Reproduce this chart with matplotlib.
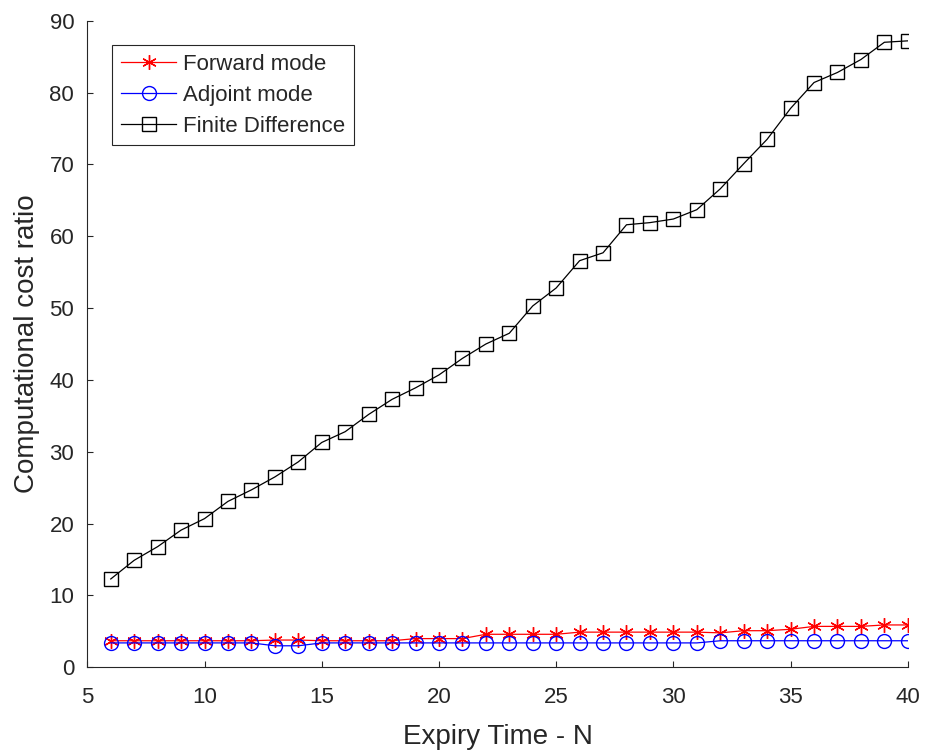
import matplotlib
matplotlib.use('Agg')
import matplotlib.pyplot as plt

plt.rcParams['font.family'] = ['Liberation Sans', 'DejaVu Sans']

# expiry times N
N = list(range(6, 41))

# computational cost ratios
forward = [3.7, 3.7, 3.7, 3.7, 3.7, 3.7, 3.7, 3.8, 3.8, 3.7, 3.7, 3.7, 3.7,
           4.0, 4.0, 4.0, 4.6, 4.6, 4.6, 4.6, 4.9, 4.9, 4.9, 4.9, 4.9, 4.9,
           4.8, 5.1, 5.1, 5.3, 5.7, 5.7, 5.7, 5.9, 5.9]
adjoint = [3.4, 3.4, 3.4, 3.4, 3.4, 3.4, 3.4, 3.0, 3.0, 3.4, 3.4, 3.4, 3.4,
           3.4, 3.4, 3.4, 3.4, 3.4, 3.4, 3.4, 3.4, 3.4, 3.4, 3.4, 3.4, 3.4,
           3.7, 3.7, 3.7, 3.7, 3.7, 3.7, 3.7, 3.7, 3.7]
finite_diff = [12.3, 14.9, 16.8, 19.1, 20.7, 23.1, 24.7, 26.5, 28.6, 31.3,
               32.8, 35.2, 37.3, 38.9, 40.7, 43.0, 45.0, 46.5, 50.3, 52.8,
               56.6, 57.7, 61.6, 61.9, 62.4, 63.7, 66.6, 70.1, 73.5, 77.8,
               81.4, 82.8, 84.6, 87.0, 87.2]

fig = plt.figure(figsize=(9.25, 7.51), dpi=100)
ax = fig.add_axes([0.0944, 0.1114, 0.887, 0.861])

ax.plot(N, forward, color='red', lw=0.9, marker=(6, 2, 0), ms=10.5, mew=1.0,
        label='Forward mode')
ax.plot(N, adjoint, color='blue', lw=0.9, marker='o', ms=10, mew=1.0,
        mfc='none', label='Adjoint mode')
ax.plot(N, finite_diff, color='black', lw=0.9, marker='s', ms=9.5, mew=1.0,
        mfc='none', label='Finite Difference')

ax.set_xlim(5, 40)
ax.set_ylim(0, 90)
ax.set_xticks(range(5, 41, 5))
ax.set_yticks(range(0, 91, 10))

axcol = '#262626'
for s in ['top', 'right']:
    ax.spines[s].set_visible(False)
for s in ['left', 'bottom']:
    ax.spines[s].set_color(axcol)
    ax.spines[s].set_linewidth(0.8)
ax.tick_params(direction='in', length=4, width=0.8, colors=axcol,
               labelsize=16)
ax.tick_params(axis='x', pad=14.5)
ax.tick_params(axis='y', pad=9.5)

ax.set_xlabel('Expiry Time - N', fontsize=20, color=axcol, labelpad=11)
ax.set_ylabel('Computational cost ratio', fontsize=20, color=axcol, labelpad=7)

leg = ax.legend(loc='upper left', bbox_to_anchor=(0.03, 0.963),
                borderaxespad=0, fontsize=16, handlelength=2.5,
                handletextpad=0.3, labelspacing=0.45, fancybox=False,
                framealpha=1, borderpad=0.4)
leg.get_frame().set_edgecolor(axcol)
leg.get_frame().set_linewidth(0.8)
for t in leg.get_texts():
    t.set_color(axcol)

fig.savefig('out.png', dpi=100)
